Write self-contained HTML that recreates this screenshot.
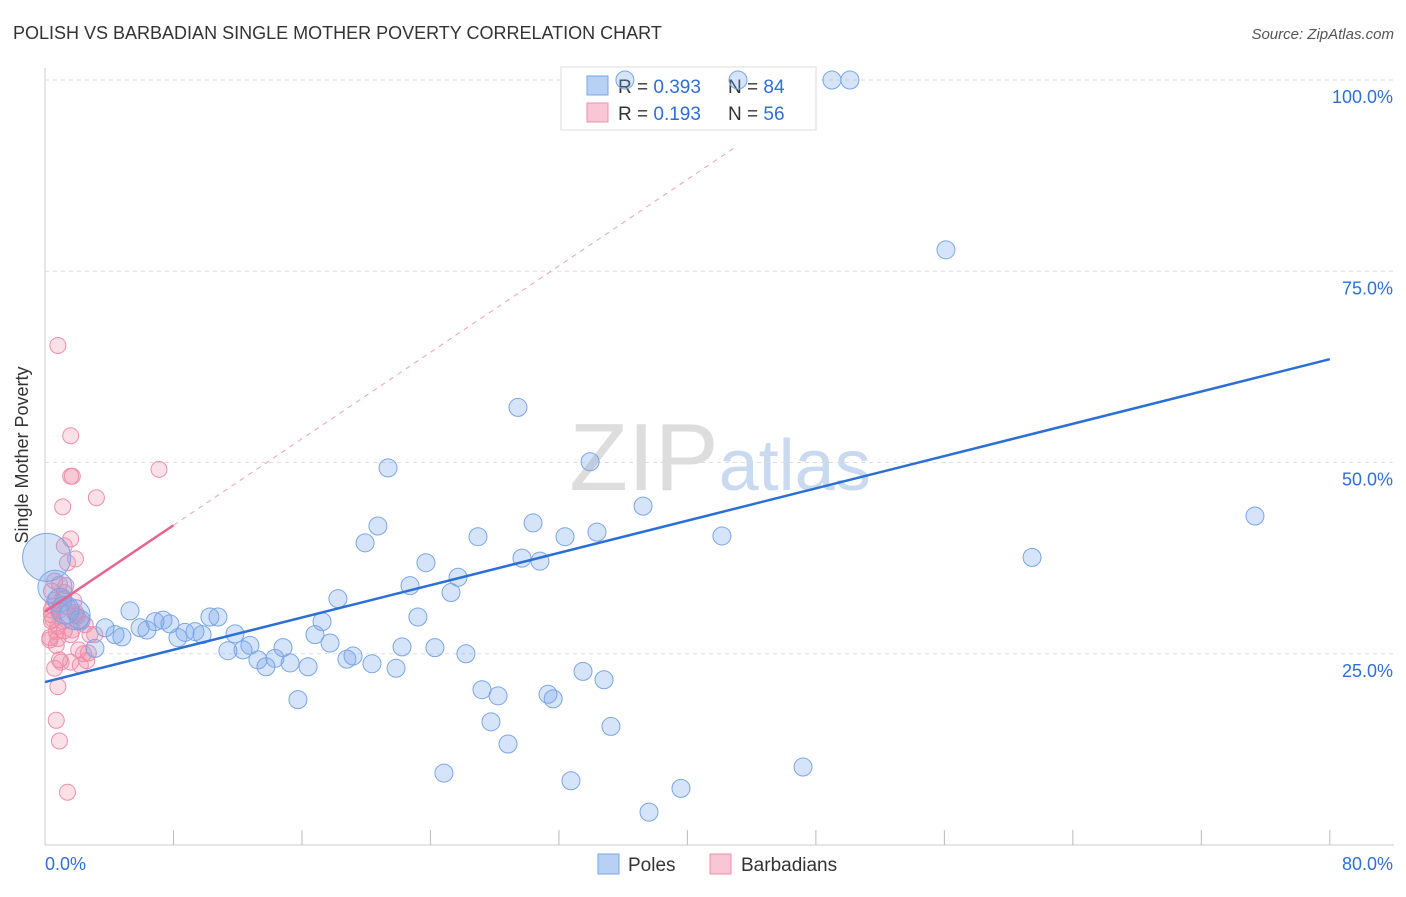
<!DOCTYPE html>
<html><head><meta charset="utf-8"><style>
body{margin:0;background:#fff;font-family:"Liberation Sans",sans-serif}
svg text{font-family:"Liberation Sans",sans-serif}
</style></head><body>
<svg id="c" width="1406" height="892">
<text x="13" y="39" font-size="18" fill="#333">POLISH VS BARBADIAN SINGLE MOTHER POVERTY CORRELATION CHART</text>
<text x="1394" y="39" font-size="15" fill="#555" font-style="italic" text-anchor="end">Source: ZipAtlas.com</text>
<text x="720" y="490" font-size="96" fill="#ddd" text-anchor="middle" font-family="Liberation Serif">ZIP<tspan fill="#c9d9f0" font-family="Liberation Sans" font-size="72">atlas</tspan></text>
<text x="28" y="455" font-size="18" fill="#333" transform="rotate(-90 28 455)" text-anchor="middle">Single Mother Poverty</text>
<g id="grid"></g>
<g>
<rect x="561" y="67" width="255" height="63" fill="#fff" stroke="#ddd"/>
<rect x="587" y="76" width="21" height="19" fill="#b7d0f4" stroke="#7aa6e6"/>
<rect x="587" y="103" width="21" height="19" fill="#f9c6d5" stroke="#f08fab"/>
<text x="618" y="93" font-size="19" fill="#333">R = <tspan fill="#2f6fd6">0.393</tspan><tspan x="728">N = </tspan><tspan fill="#2f6fd6">84</tspan></text>
<text x="618" y="120" font-size="19" fill="#333">R = <tspan fill="#2f6fd6"> 0.193</tspan><tspan x="728">N = </tspan><tspan fill="#2f6fd6">56</tspan></text>
</g>
<g id="pts"></g><g id="lines"></g>
<g>
<rect x="598" y="854" width="21" height="20" fill="#b7d0f4" stroke="#7aa6e6"/>
<text x="628" y="871" font-size="19" fill="#333">Poles</text>
<rect x="710" y="854" width="21" height="20" fill="#f9c6d5" stroke="#f08fab"/>
<text x="741" y="871" font-size="19" fill="#333">Barbadians</text>
</g>
</svg>
<script>
const blueX=[0.1,0.62,0.93,1.25,1.87,2.18,3.11,3.74,4.36,4.79,5.29,5.92,6.35,6.85,7.35,7.78,8.28,8.72,9.34,9.78,10.27,10.77,11.83,11.39,12.33,12.76,13.26,13.76,14.32,14.82,15.26,15.75,16.38,16.81,17.25,17.75,18.24,18.80,19.18,19.93,20.36,20.73,21.36,21.86,22.23,22.73,23.22,23.72,24.28,24.84,25.28,25.72,26.21,26.96,27.21,27.77,28.21,28.83,29.45,29.70,30.39,30.82,31.32,31.64,32.38,32.75,33.50,33.94,34.37,34.81,35.24,37.24,37.61,39.60,42.15,47.20,49.00,50.12,56.10,61.46,75.34,36.11,43.15];
const blueY=[37.6,33.7,32.0,30.7,30.1,29.4,25.7,28.4,27.5,27.2,30.6,28.4,28.1,29.2,29.4,28.9,27.1,27.8,27.9,27.5,29.8,29.8,27.6,25.4,25.5,26.1,24.2,23.3,24.4,25.8,23.8,19.0,23.3,27.5,29.2,26.4,32.2,24.3,24.7,39.5,23.7,41.7,49.3,23.1,25.9,33.9,29.8,36.9,25.8,9.4,33.0,35.0,25.0,40.3,20.3,16.1,19.5,13.2,57.2,37.5,42.1,37.1,19.7,19.1,40.3,8.4,22.7,50.1,40.9,21.6,15.5,44.3,4.3,7.4,40.4,10.2,100,100,77.8,37.6,43.0,100,100];
const blueR=[24,17,12,14,15,10];
const pinkX=[0.8,1.6,1.6,1.7,1.1,3.2,7.1,1.6,1.2,1.9,0.6,0.9,0.4,1.3,0.6,0.9,1.4,1.9,2.2,0.4,0.8,1.2,1.6,0.3,0.7,2.8,2.1,2.7,0.9,2.2,1.6,0.6,0.8,0.7,0.9,1.4,0.4,1.1,1.8,2.5,3.1,0.4,0.3,1.7,1.1,2.4,1.0,0.5,2.0,1.4,0.8,1.2,2.6,0.5,1.9,0.7];
const pinkY=[65.3,53.5,48.2,48.2,44.2,45.4,49.1,40.0,39.1,37.4,34.5,34.1,33.2,33.9,32.0,30.7,31.2,30.1,29.3,29.3,28.6,28.0,27.5,26.8,26.1,27.5,25.5,25.1,24.2,23.5,23.9,23.1,20.7,16.3,13.6,6.9,30.7,32.2,31.9,28.8,27.5,30.1,27.1,28.1,29.2,25.0,23.9,29.5,29.9,36.9,27.0,33.0,24.1,31.2,30.4,27.9];
const bluePointsLine=[21.3,63.5], pinkLine=[30.5,41.8,8.0];
const xTicks=["0.0%","80.0%"], yTicks=[25,50,75,100];
const X=v=>45+v*16.06, Y=v=>845-v*7.65;
const NS="http://www.w3.org/2000/svg";
function mk(t,a,p){const e=document.createElementNS(NS,t);for(const k in a)e.setAttribute(k,a[k]);p.appendChild(e);return e;}
const grid=document.getElementById('grid'),pts=document.getElementById('pts'),lines=document.getElementById('lines');
mk('line',{x1:45,y1:68,x2:45,y2:845,stroke:'#ccc'},grid);
mk('line',{x1:45,y1:845,x2:1394,y2:845,stroke:'#ccc'},grid);
yTicks.forEach(t=>{
 const g=mk('line',{x1:45,y1:Y(t),x2:1394,y2:Y(t),stroke:'#ddd','stroke-dasharray':'4,4'},grid);
 
 
 const tx=mk('text',{x:1393,y:Y(t)+23,'font-size':18,fill:'#2f6fd6','text-anchor':'end'},grid);
 tx.textContent=t.toFixed(1)+'%';
 
 
});
for(let i=1;i<=10;i++){const l=mk('line',{x1:X(i*8),y1:830,x2:X(i*8),y2:845,stroke:'#bbb'},grid);
 
 }
[[xTicks[0],45,'start'],[xTicks[1],1393,'end']].forEach(([s,x,a])=>{const t=mk('text',{x:x,y:870,'font-size':18,fill:'#2f6fd6','text-anchor':a},grid);t.textContent=s;
 
 });
pinkX.forEach((x,i)=>{const c=mk('circle',{cx:X(x),cy:Y(pinkY[i]),r:8,fill:'rgba(240,130,160,0.25)',stroke:'#f08fab','stroke-width':1},pts);
 
 });
blueX.forEach((x,i)=>{const c=mk('circle',{cx:X(x),cy:Y(blueY[i]),r:blueR[i]||9,fill:'rgba(120,165,235,0.3)',stroke:'#7aa6e6','stroke-width':1},pts);
 
 });
const bl=mk('line',{x1:X(0),y1:Y(bluePointsLine[0]),x2:X(80),y2:Y(bluePointsLine[1]),stroke:'#2a6fd6','stroke-width':2.5},lines);


const pl=mk('line',{x1:X(0),y1:Y(pinkLine[0]),x2:X(pinkLine[2]),y2:Y(pinkLine[1]),stroke:'#e8648e','stroke-width':2.5},lines);


const slope=(pinkLine[1]-pinkLine[0])/pinkLine[2];
const pd=mk('line',{x1:X(pinkLine[2]),y1:Y(pinkLine[1]),x2:X(43),y2:Y(pinkLine[0]+slope*43),stroke:'#f0a0b8','stroke-width':1,'stroke-dasharray':'5,5'},lines);


</script>
</body></html>
